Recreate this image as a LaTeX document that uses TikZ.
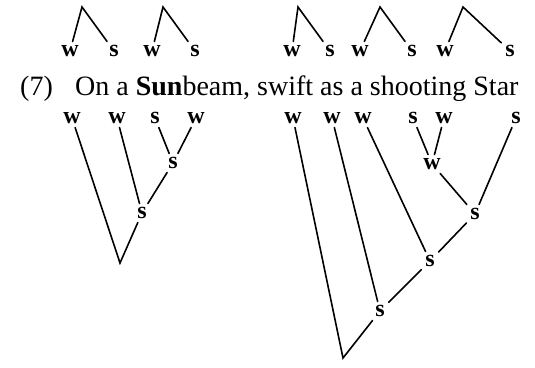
\documentclass[tikz,border=0pt]{standalone}
\usepackage{fontspec}
\setmainfont{Liberation Serif}
\begin{document}
\begin{tikzpicture}[x=1pt,y=-1pt,
  lbl/.style={font=\fontsize{24}{26}\selectfont\bfseries, inner sep=0pt, outer sep=4pt, text height=11pt, text depth=0pt, anchor=center},
  txt/.style={font=\fontsize{28}{32}\selectfont, inner sep=0pt, anchor=base west},
  edge/.style={line width=1.6pt, line cap=round}]
\useasboundingbox (0,0) rectangle (535,367);
% sentence
\node[txt] (num) at (20,95) {(7)};
\node[txt] (line) at (75,95) {On a \textbf{Sun}beam, swift as a shooting Star};
% top labels
\foreach \n/\x/\t in {tA1/70/w, tA2/114/s, tB1/152/w, tB2/195/s, tC1/292/w, tC2/330/s, tD1/360/w, tD2/412/s, tE1/445/w, tE2/510/s}
  \node[lbl] (\n) at (\x,51) {\t};
\coordinate (pA) at (82,7);
\coordinate (pB) at (163,7);
\coordinate (pC) at (298,7);
\coordinate (pD) at (380,7);
\coordinate (pE) at (463,7);
\foreach \p/\a/\b in {pA/tA1/tA2, pB/tB1/tB2, pC/tC1/tC2, pD/tD1/tD2, pE/tE1/tE2}
  \draw[edge] (\a) -- (\p) -- (\b);
% bottom labels
\foreach \n/\x/\t in {bL1/72/w, bL2/117/w, bL3/155/s, bL4/196/w, bR1/293/w, bR2/332/w, bR3/363/w, bR4/413/s, bR5/444/w, bR6/516/s}
  \node[lbl] (\n) at (\x,118) {\t};
% left tree
\node[lbl] (lS1) at (173,163) {s};
\node[lbl] (lS2) at (142,213) {s};
\coordinate (aL) at (120,263);
\draw[edge] (bL3) -- (lS1) -- (bL4);
\draw[edge] (lS1) -- (lS2) -- (bL2);
\draw[edge] (lS2) -- (aL) -- (bL1);
% right tree
\node[lbl] (rW) at (432,164) {w};
\node[lbl] (rS1) at (475,214) {s};
\node[lbl] (rS2) at (430,261) {s};
\node[lbl] (rS3) at (380,311) {s};
\coordinate (aR) at (343,358);
\draw[edge] (bR4) -- (rW) -- (bR5);
\draw[edge] (rW) -- (rS1) -- (bR6);
\draw[edge] (rS1) -- (rS2) -- (bR3);
\draw[edge] (rS2) -- (rS3) -- (bR2);
\draw[edge] (rS3) -- (aR) -- (bR1);
\end{tikzpicture}
\end{document}
